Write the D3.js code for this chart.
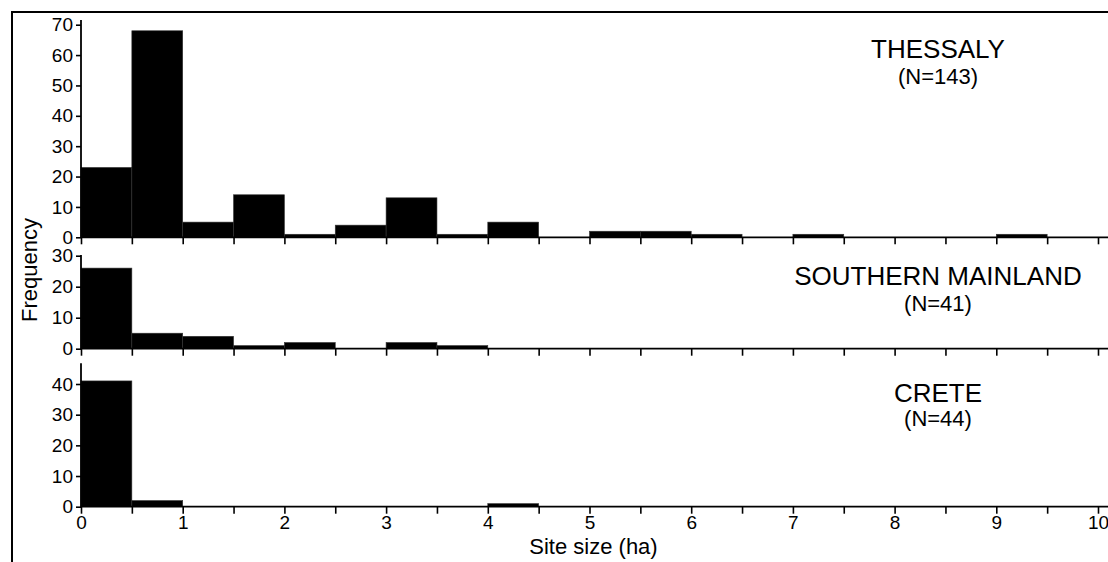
<!DOCTYPE html>
<html>
<head>
<meta charset="utf-8">
<script src="https://cdn.jsdelivr.net/npm/d3@7"></script>
<style>
  html, body { margin: 0; padding: 0; background: #fff; }
  svg { display: block; }
  text { font-family: "Liberation Sans", Arial, sans-serif; fill: #000; }
</style>
</head>
<body>
<svg id="chart" width="1108" height="562"></svg>
<script>
// Histogram bins: lower edge of each 0.5 ha class
const binStarts = d3.range(0, 10, 0.5);
const binWidth = 0.5;

// Site counts per 0.5 ha class
const thessalyCounts = [23, 68, 5, 14, 1, 4, 13, 1, 5, 0, 2, 2, 1, 0, 1, 0, 0, 0, 1, 0];
const southernCounts = [26, 5, 4, 1, 2, 0, 2, 1, 0, 0, 0, 0, 0, 0, 0, 0, 0, 0, 0, 0];
const creteCounts    = [41, 2, 0, 0, 0, 0, 0, 0, 1, 0, 0, 0, 0, 0, 0, 0, 0, 0, 0, 0];

const regionNames = ["THESSALY", "SOUTHERN MAINLAND", "CRETE"];
const regionN = ["(N=143)", "(N=41)", "(N=44)"];

// Y tick values per panel
const thessalyTicks = [0, 10, 20, 30, 40, 50, 60, 70];
const southernTicks = [0, 10, 20, 30];
const creteTicks = [0, 10, 20, 30, 40];

const xTickValues = d3.range(0, 10.001, 0.5);
const xTickLabels = ["0", "1", "2", "3", "4", "5", "6", "7", "8", "9", "10"];

const svg = d3.select("#chart");
const W = 1108, H = 562;

// Layout of the three stacked panels (pixel geometry)
const left = 81, right = 1098;
const panels = [
  { counts: thessalyCounts, ticks: thessalyTicks, base: 237.3, refVal: 70, refPx: 24.7, top: 20,    titleY: 58,    nY: 83.5 },
  { counts: southernCounts, ticks: southernTicks, base: 348.7, refVal: 30, refPx: 255.7, top: 255, titleY: 285,   nY: 310.5 },
  { counts: creteCounts,    ticks: creteTicks,    base: 506.7, refVal: 40, refPx: 384,  top: 363.3, titleY: 401.7, nY: 425.5 }
];

const x = d3.scaleLinear().domain([0, 10]).range([left, right]);

// Outer frame (top and left edges)
svg.append("line").attr("x1", 11).attr("x2", W).attr("y1", 12).attr("y2", 12)
  .attr("stroke", "#000").attr("stroke-width", 2);
svg.append("line").attr("x1", 12).attr("x2", 12).attr("y1", 11).attr("y2", H)
  .attr("stroke", "#000").attr("stroke-width", 2);

panels.forEach((p, i) => {
  const y = d3.scaleLinear().domain([0, p.refVal]).range([p.base, p.refPx]);
  const g = svg.append("g");

  // Bars
  const bins = binStarts.map((s, k) => ({ x0: s, x1: s + binWidth, n: p.counts[k] }))
    .filter(d => d.n > 0);
  g.selectAll("rect.bar").data(bins).join("rect")
    .attr("class", "bar")
    .attr("x", d => x(d.x0))
    .attr("width", d => x(d.x1) - x(d.x0))
    .attr("y", d => y(d.n))
    .attr("height", d => y(0) - y(d.n))
    .attr("fill", "#000")
    .attr("stroke", "#333")
    .attr("stroke-width", 0.6);

  // Y axis
  const yAxis = d3.axisLeft(y).tickValues(p.ticks).tickSize(5).tickPadding(3).tickSizeOuter(0);
  const ya = g.append("g").attr("transform", `translate(${left},0)`).call(yAxis);
  ya.select(".domain").remove();
  ya.selectAll(".tick line").attr("stroke", "#000").attr("stroke-width", 1.6);
  ya.selectAll(".tick text").attr("font-size", 19).attr("font-family", "Liberation Sans, Arial, sans-serif");
  g.append("line").attr("x1", left).attr("x2", left)
    .attr("y1", p.top).attr("y2", p.base + 0.8)
    .attr("stroke", "#000").attr("stroke-width", 1.8);

  // X axis (ticks every 0.5 ha; labels only on the bottom panel)
  const isBottom = i === panels.length - 1;
  const xAxis = d3.axisBottom(x).tickValues(xTickValues).tickSize(7).tickPadding(2).tickSizeOuter(0)
    .tickFormat(d => (isBottom && Number.isInteger(d)) ? xTickLabels[d] : "");
  const xa = g.append("g").attr("transform", `translate(0,${p.base})`).call(xAxis);
  xa.select(".domain").remove();
  xa.selectAll(".tick line").attr("stroke", "#000").attr("stroke-width", 1.6);
  xa.selectAll(".tick text").attr("font-size", 19).attr("font-family", "Liberation Sans, Arial, sans-serif");
  g.append("line").attr("x1", left).attr("x2", W).attr("y1", p.base).attr("y2", p.base)
    .attr("stroke", "#000").attr("stroke-width", 1.8);

  // Region title and sample size
  g.append("text").attr("x", 938).attr("y", p.titleY).attr("text-anchor", "middle")
    .attr("font-size", 26).text(regionNames[i]);
  g.append("text").attr("x", 938).attr("y", p.nY).attr("text-anchor", "middle")
    .attr("font-size", 22).text(regionN[i]);
});

// Axis titles
svg.append("text").attr("x", (left + right) / 2 + 4).attr("y", 554).attr("text-anchor", "middle")
  .attr("font-size", 22).text("Site size (ha)");
svg.append("text").attr("transform", "translate(37,270) rotate(-90)").attr("text-anchor", "middle")
  .attr("font-size", 22).text("Frequency");
</script>
</body>
</html>
